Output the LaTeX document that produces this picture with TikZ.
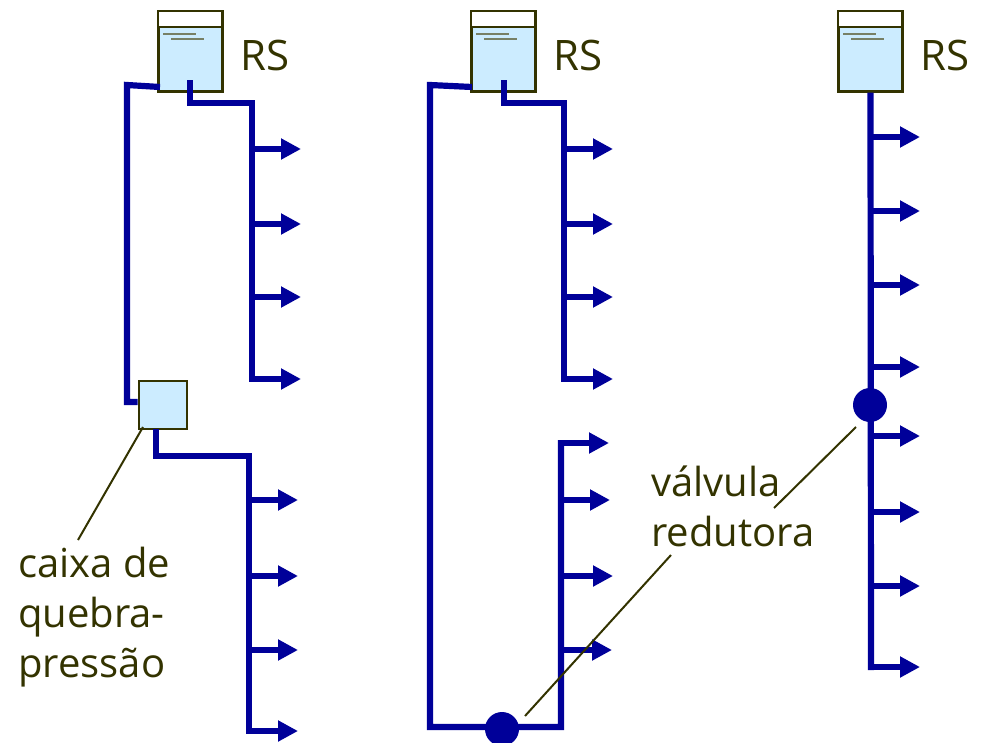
\documentclass[tikz,border=0pt]{standalone}
\usepackage{fontspec}
\setmainfont{Open Sans}
\usetikzlibrary{arrows.meta}
\definecolor{pipeblue}{HTML}{000099}
\definecolor{olivetext}{HTML}{333300}
\definecolor{waterblue}{HTML}{CCECFF}
\definecolor{ripple}{HTML}{778066}
\tikzset{
  tank/.style={draw=olivetext,line width=2.2pt,fill=waterblue,minimum width=64pt,minimum height=80pt,inner sep=0pt},
  breakbox/.style={draw=olivetext,line width=2pt,fill=waterblue,minimum size=48pt,inner sep=0pt},
  valve/.style={circle,fill=pipeblue,minimum size=34pt,inner sep=0pt},
  pipe/.style={draw=pipeblue,line width=6.2pt,line join=miter},
  branch/.style={draw=pipeblue,line width=5.8pt,-{Triangle[length=20pt,width=20pt]}},
  leader/.style={draw=olivetext,line width=2pt},
  label/.style={text=olivetext,font=\fontsize{40}{50}\selectfont,inner sep=0pt,align=left}
}
\begin{document}
\begin{tikzpicture}[x=1pt,y=-1pt]
   \useasboundingbox (0,0) rectangle (983,742);

   % reservoirs
   \foreach \name/\x in {A/190.5,B/503.5,C/870.5} {
      \node[tank] (tank\name) at (\x,51.5) {};
      \fill[white] ([xshift=1.1pt,yshift=-1.1pt]tank\name.north west) rectangle (\x+30.9,27);
      \draw[olivetext,line width=1.2pt] (\x-32,27) -- (\x+32,27);
      \draw[ripple,line width=1.4pt] (\x-27.5,34) -- (\x+5.5,34);
      \draw[ripple,line width=1.4pt] (\x-19.5,39) -- (\x+13.5,39);
      \node[label,anchor=west,font=\fontsize{42}{50}\selectfont] (rs\name) at (\x+50,55) {RS};
   }

   % left system
   \node[breakbox] (boxA) at (162.5,404.5) {};
   \coordinate (a1) at (160,87);
   \coordinate (a2) at (127,85);
   \coordinate (a3) at (127,402);
   \coordinate (a4) at (190,80);
   \coordinate (a5) at (190,103);
   \coordinate (a6) at (252,103);
   \coordinate (a7) at (252,382);
   \coordinate (a8) at (156,429);
   \coordinate (a9) at (156,456);
   \coordinate (a10) at (249,456);
   \coordinate (a11) at (249,734);
   \draw[pipe] (a1) -- (a2) -- (a3) -- (boxA.west |- a3);
   \draw[pipe] (a4) -- (a5) -- (a6) -- (a7);
   \draw[pipe] (a8) -- (a9) -- (a10) -- (a11);
   \foreach \y in {149,224,297,379} {
      \coordinate (p\y) at (252,\y);
      \coordinate (q\y) at (301,\y);
      \draw[branch] (p\y) -- (q\y);
   }
   \foreach \y in {500,576,650,731} {
      \coordinate (p\y) at (249,\y);
      \coordinate (q\y) at (298,\y);
      \draw[branch] (p\y) -- (q\y);
   }

   % middle system
   \node[valve] (valveB) at (502,729) {};
   \coordinate (b1) at (472,87);
   \coordinate (b2) at (430,85);
   \coordinate (b3) at (430,727);
   \coordinate (b4) at (561,727);
   \coordinate (b5) at (561,440);
   \coordinate (b6) at (504,80);
   \coordinate (b7) at (504,103);
   \coordinate (b8) at (564,103);
   \coordinate (b9) at (564,382);
   \draw[pipe] (b1) -- (b2) -- (b3) -- (b4) -- (b5);
   \draw[pipe] (b6) -- (b7) -- (b8) -- (b9);
   \foreach \y in {149,224,297,379} {
      \coordinate (r\y) at (564,\y);
      \coordinate (s\y) at (613,\y);
      \draw[branch] (r\y) -- (s\y);
   }
   \foreach \y/\xe in {443/609,500/610,576/613,650/612} {
      \coordinate (r\y) at (561,\y);
      \coordinate (s\y) at (\xe,\y);
      \draw[branch] (r\y) -- (s\y);
   }

   % right system
   \node[valve] (valveC) at (870,405) {};
   \coordinate (c1) at (871,670);
   \draw[pipe] (tankC.south) -- (c1);
   \foreach \y in {137,211,285,367,436,512,586,667} {
      \coordinate (t\y) at (871,\y);
      \coordinate (u\y) at (920,\y);
      \draw[branch] (t\y) -- (u\y);
   }

   % labels
   \node[label,anchor=north west] (caixa) at (18,547) {caixa de\\quebra-\\pressão};
   \node[label,anchor=north west] (reduc) at (651,466) {válvula\\redutora};

   \coordinate (l1) at (143,427);
   \coordinate (l2) at (78,540);
   \coordinate (l3) at (774,508);
   \coordinate (l4) at (856,427);
   \coordinate (l5) at (671,555);
   \coordinate (l6) at (525,716);
   \draw[leader] (l1) -- (l2);
   \draw[leader] (l3) -- (l4);
   \draw[leader] (l5) -- (l6);
\end{tikzpicture}
\end{document}
